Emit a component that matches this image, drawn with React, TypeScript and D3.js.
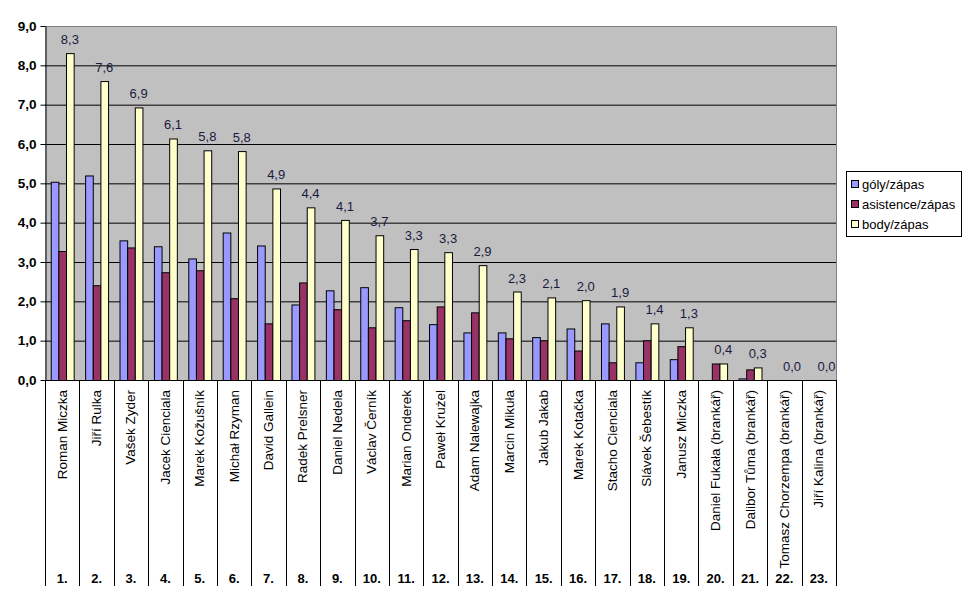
import { FC, useEffect, useRef } from 'react';
import * as d3 from 'd3';

const players = [
  'Roman Miczka', 'Jiří Rulka', 'Vašek Zyder', 'Jacek Cienciala', 'Marek Kožušník',
  'Michał Rzyman', 'David Gallein', 'Radek Prelsner', 'Daniel Nedela', 'Václav Černík',
  'Marian Onderek', 'Paweł Krużel', 'Adam Nalewajka', 'Marcin Mikuła', 'Jakub Jakab',
  'Marek Kotačka', 'Stacho Cienciala', 'Slávek Šebestík', 'Janusz Miczka',
  'Daniel Fukała (brankář)', 'Dalibor Tůma (brankář)', 'Tomasz Chorzempa (brankář)', 'Jiří Kalina (brankář)',
];
const ranks = players.map((_, i) => `${i + 1}.`);

const goals = [5.04, 5.2, 3.55, 3.4, 3.09, 3.75, 3.42, 1.92, 2.28, 2.36, 1.85, 1.42, 1.21, 1.21, 1.09, 1.31, 1.44, 0.45, 0.53, 0, 0.04, 0, 0];
const assists = [3.28, 2.41, 3.37, 2.74, 2.79, 2.08, 1.44, 2.48, 1.8, 1.34, 1.52, 1.87, 1.72, 1.06, 1.01, 0.75, 0.45, 1.01, 0.86, 0.42, 0.27, 0, 0];
const points = [8.31, 7.6, 6.93, 6.14, 5.84, 5.82, 4.87, 4.39, 4.07, 3.68, 3.33, 3.25, 2.92, 2.25, 2.1, 2.03, 1.87, 1.44, 1.34, 0.42, 0.32, 0, 0];

const seriesNames = ['góly/zápas', 'asistence/zápas', 'body/zápas'];
const seriesColors = ['#9999ff', '#993366', '#ffffcc'];
const yTicks = [0, 1, 2, 3, 4, 5, 6, 7, 8, 9];

const fmt = (v: number) => v.toFixed(1).replace('.', ',');
const font = 'Arial, "Liberation Sans", sans-serif';

const Chart: FC = () => {
  const svgRef = useRef<SVGSVGElement | null>(null);
  const width = 970;
  const height = 604;
  const margin = { top: 26, left: 45, right: 134, bottom: 224 };

  useEffect(() => {
    if (!svgRef.current) return;
    const svg = d3.select(svgRef.current);
    svg.selectAll('*').remove();

    const x0 = margin.left;
    const x1 = width - margin.right;
    const y0 = height - margin.bottom;
    const y1 = margin.top;

    const x = d3.scaleBand<string>().domain(players).range([x0, x1]);
    const y = d3.scaleLinear().domain([0, 9]).range([y0, y1]);
    const bw = x.bandwidth() / 4.5;
    const series = [goals, assists, points];

    // plot background
    svg.append('rect')
      .attr('x', x0).attr('y', y1)
      .attr('width', x1 - x0).attr('height', y0 - y1)
      .attr('fill', '#c0c0c0');

    // gridlines
    svg.append('g')
      .selectAll('line')
      .data(yTicks.slice(1, -1))
      .enter()
      .append('line')
      .attr('x1', x0).attr('x2', x1)
      .attr('y1', d => y(d) + 0.5).attr('y2', d => y(d) + 0.5)
      .attr('stroke', '#000').attr('stroke-width', 1);

    // top / right border
    svg.append('path')
      .attr('d', `M${x0},${y1 + 0.5}H${x1 + 0.5}V${y0}`)
      .attr('fill', 'none').attr('stroke', '#808080');

    // bars
    series.forEach((vals, si) => {
      svg.append('g')
        .selectAll('rect')
        .data(vals)
        .enter()
        .append('rect')
        .attr('x', (_, i) => (x(players[i]) as number) + 0.75 * bw + si * bw + 0.5)
        .attr('y', d => y(d) + 0.5)
        .attr('width', bw)
        .attr('height', d => y0 - y(d))
        .attr('fill', seriesColors[si])
        .attr('stroke', '#000')
        .attr('stroke-width', d => (d > 0 ? 1 : 0));
    });

    // value labels above points bars
    svg.append('g')
      .selectAll('text')
      .data(points)
      .enter()
      .append('text')
      .attr('x', (_, i) => (x(players[i]) as number) + 0.75 * bw + 2.5 * bw)
      .attr('y', d => y(d) - 9)
      .attr('text-anchor', 'middle')
      .attr('font-family', font)
      .attr('font-size', 13)
      .attr('fill', '#1a1a40')
      .text(d => fmt(d));

    // y axis
    const yAxis = svg.append('g')
      .attr('transform', `translate(${x0 + 0.5},0)`)
      .call(d3.axisLeft(y).tickValues(yTicks).tickSize(5).tickSizeOuter(0).tickPadding(4).tickFormat(d => fmt(+d)));
    yAxis.select('.domain').attr('stroke', '#000');
    yAxis.selectAll('line').attr('stroke', '#000');
    yAxis.selectAll('text')
      .attr('font-family', font)
      .attr('font-size', 13.5)
      .attr('font-weight', 'bold')
      .attr('fill', '#000');

    // x axis line
    svg.append('line')
      .attr('x1', x0).attr('x2', x1 + 1)
      .attr('y1', y0 + 0.5).attr('y2', y0 + 0.5)
      .attr('stroke', '#000');

    // category separators
    const bounds = players.map(p => x(p) as number).concat([x1]);
    svg.append('g')
      .selectAll('line')
      .data(bounds)
      .enter()
      .append('line')
      .attr('x1', d => Math.round(d) + 0.5).attr('x2', d => Math.round(d) + 0.5)
      .attr('y1', y0).attr('y2', 586)
      .attr('stroke', '#000');

    // player names
    svg.append('g')
      .selectAll('text')
      .data(players)
      .enter()
      .append('text')
      .attr('transform', d => `translate(${(x(d) as number) + x.bandwidth() / 2 + 4.5},${y0 + 10}) rotate(-90)`)
      .attr('text-anchor', 'end')
      .attr('font-family', font)
      .attr('font-size', 13.5)
      .attr('fill', '#000')
      .text(d => d);

    // rank numbers
    svg.append('g')
      .selectAll('text')
      .data(ranks)
      .enter()
      .append('text')
      .attr('x', (_, i) => (x(players[i]) as number) + x.bandwidth() / 2)
      .attr('y', 583)
      .attr('text-anchor', 'middle')
      .attr('font-family', font)
      .attr('font-size', 13)
      .attr('font-weight', 'bold')
      .attr('fill', '#000')
      .text(d => d);

    // legend
    const lg = svg.append('g').attr('transform', 'translate(846,171)');
    lg.append('rect')
      .attr('x', 0.5).attr('y', 0.5)
      .attr('width', 115).attr('height', 65)
      .attr('fill', '#fff').attr('stroke', '#000');
    seriesNames.forEach((name, i) => {
      const cy = 13 + i * 20;
      lg.append('rect')
        .attr('x', 5.5).attr('y', cy - 3.5)
        .attr('width', 7).attr('height', 7)
        .attr('fill', seriesColors[i]).attr('stroke', '#000');
      lg.append('text')
        .attr('x', 16).attr('y', cy + 4.5)
        .attr('font-family', font)
        .attr('font-size', 13)
        .attr('fill', '#000')
        .text(name);
    });
  }, []);

  return <svg ref={svgRef} width={width} height={height} style={{ display: 'block' }} />;
};

export default function App() {
  return (
    <div style={{ margin: -8 }}>
      <Chart />
    </div>
  );
}
